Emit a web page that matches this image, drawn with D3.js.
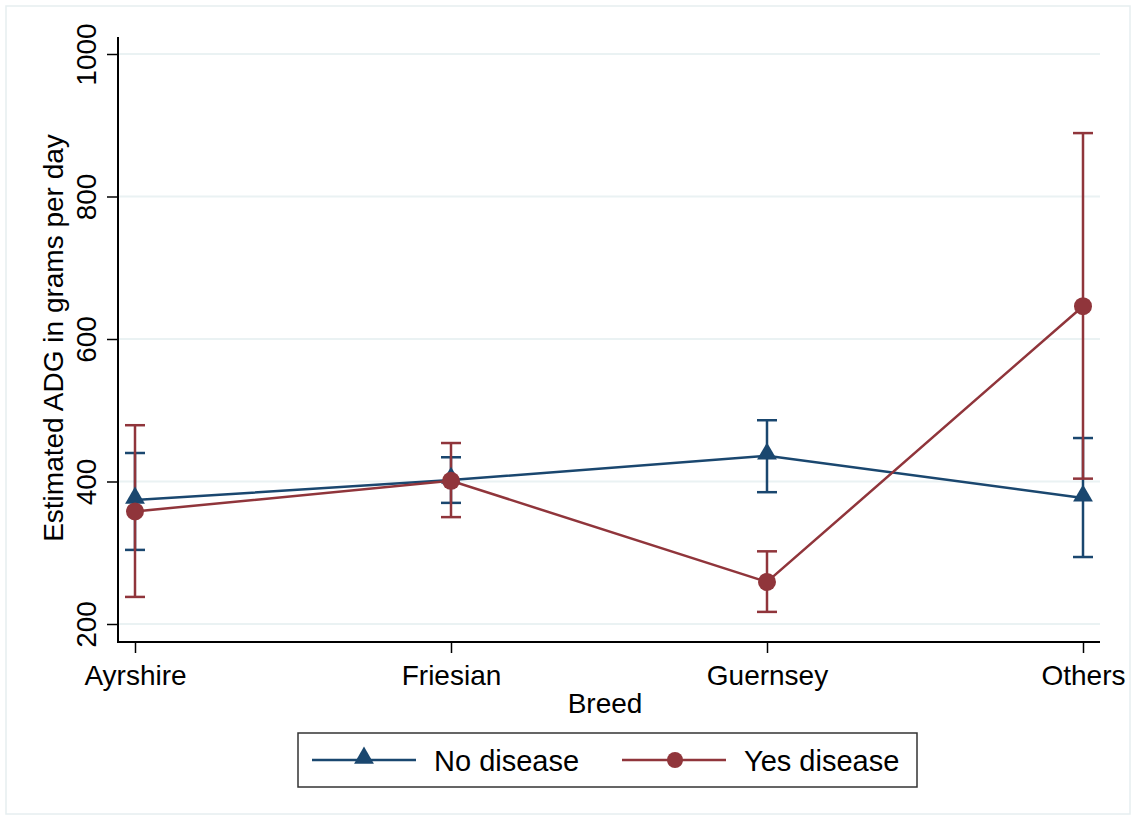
<!DOCTYPE html>
<html>
<head>
<meta charset="utf-8">
<script src="https://cdn.jsdelivr.net/npm/d3@7"></script>
<style>
  html, body { margin: 0; padding: 0; background: #fff; }
  svg { display: block; font-family: "Liberation Sans", Arial, sans-serif; }
</style>
</head>
<body>
<svg id="chart" width="1139" height="820"></svg>
<script>
// Breeds on the x axis
const breeds = ["Ayrshire", "Friesian", "Guernsey", "Others"];

// Estimated ADG (g/day) with 95% confidence limits
const noDisease      = [374, 402, 436, 377];
const noDiseaseLow   = [304, 370, 385, 294];
const noDiseaseHigh  = [440, 434, 486, 461];

const yesDisease     = [358, 401, 259, 646];
const yesDiseaseLow  = [238, 350, 217, 404];
const yesDiseaseHigh = [479, 454, 302, 889];

const yTicks = [200, 400, 600, 800, 1000];
const seriesNames = ["No disease", "Yes disease"];
const colors = ["#1a476f", "#90353b"];

const svg = d3.select("#chart");

// outer graph region outline
svg.append("rect")
  .attr("x", 6).attr("y", 6).attr("width", 1124).attr("height", 808)
  .attr("fill", "#fff").attr("stroke", "#e6eef0").attr("stroke-width", 1.5);

const plot = { left: 118, right: 1100, top: 37, bottom: 642 };

const x = d3.scalePoint().domain(breeds).range([135, 1083]);
const y = d3.scaleLinear().domain([200, 1000]).range([624, 54]);

// horizontal grid
svg.append("g").selectAll("line").data(yTicks).join("line")
  .attr("x1", plot.left).attr("x2", plot.right)
  .attr("y1", d => y(d)).attr("y2", d => y(d))
  .attr("stroke", "#eaf2f3").attr("stroke-width", 2);

// y axis
const yAxis = svg.append("g").attr("transform", `translate(${plot.left},0)`)
  .call(d3.axisLeft(y).tickValues(yTicks).tickSize(11).tickPadding(8).tickFormat(d3.format("d")));
yAxis.select(".domain").remove();
yAxis.append("line").attr("x1", 0).attr("x2", 0).attr("y1", plot.top).attr("y2", plot.bottom + 1)
  .attr("stroke", "#000").attr("stroke-width", 2);
yAxis.selectAll(".tick line").attr("stroke", "#000").attr("stroke-width", 1.5);
yAxis.selectAll(".tick text")
  .attr("font-size", 28).attr("fill", "#000")
  .attr("text-anchor", "middle")
  .attr("x", 0).attr("dy", 0)
  .attr("transform", "translate(-22,0) rotate(-90)");

// x axis
const xAxis = svg.append("g").attr("transform", `translate(0,${plot.bottom})`)
  .call(d3.axisBottom(x).tickSize(11).tickPadding(10));
xAxis.select(".domain").remove();
xAxis.append("line").attr("x1", plot.left - 1).attr("x2", plot.right).attr("y1", 0).attr("y2", 0)
  .attr("stroke", "#000").attr("stroke-width", 2);
xAxis.selectAll(".tick line").attr("stroke", "#000").attr("stroke-width", 1.5);
xAxis.selectAll(".tick text").attr("font-size", 28).attr("fill", "#000").attr("dy", "0.78em");

// axis titles
svg.append("text").attr("x", 605).attr("y", 713).attr("text-anchor", "middle")
  .attr("font-size", 28).text("Breed");
svg.append("text").attr("transform", "translate(63,338) rotate(-90)")
  .attr("text-anchor", "middle").attr("font-size", 28)
  .text("Estimated ADG in grams per day");

const series = [
  { name: seriesNames[0], vals: noDisease, lo: noDiseaseLow, hi: noDiseaseHigh, color: colors[0], marker: "tri" },
  { name: seriesNames[1], vals: yesDisease, lo: yesDiseaseLow, hi: yesDiseaseHigh, color: colors[1], marker: "circ" }
];

const triangle = d3.symbol().type(d3.symbolTriangle).size(170);
const capW = 10;

series.forEach(s => {
  const g = svg.append("g");
  // confidence intervals
  breeds.forEach((b, i) => {
    const cx = x(b);
    g.append("line").attr("x1", cx).attr("x2", cx).attr("y1", y(s.lo[i])).attr("y2", y(s.hi[i]))
      .attr("stroke", s.color).attr("stroke-width", 2.5);
    [s.lo[i], s.hi[i]].forEach(v => {
      g.append("line").attr("x1", cx - capW).attr("x2", cx + capW).attr("y1", y(v)).attr("y2", y(v))
        .attr("stroke", s.color).attr("stroke-width", 2.5);
    });
  });
});

series.forEach(s => {
  const g = svg.append("g");
  g.append("path")
    .attr("d", d3.line().x((d, i) => x(breeds[i])).y(d => y(d))(s.vals))
    .attr("fill", "none").attr("stroke", s.color).attr("stroke-width", 2.5);
  s.vals.forEach((v, i) => {
    if (s.marker === "tri") {
      g.append("path").attr("d", triangle).attr("transform", `translate(${x(breeds[i])},${y(v) - 2})`)
        .attr("fill", s.color);
    } else {
      g.append("circle").attr("cx", x(breeds[i])).attr("cy", y(v)).attr("r", 9).attr("fill", s.color);
    }
  });
});

// legend
const lg = svg.append("g");
lg.append("rect").attr("x", 298).attr("y", 733).attr("width", 619).attr("height", 54)
  .attr("fill", "#fff").attr("stroke", "#333").attr("stroke-width", 1.5);
const legendItems = [
  { name: seriesNames[0], color: colors[0], marker: "tri", x0: 312 },
  { name: seriesNames[1], color: colors[1], marker: "circ", x0: 622 }
];
legendItems.forEach(it => {
  const cy = 760;
  lg.append("line").attr("x1", it.x0).attr("x2", it.x0 + 104).attr("y1", cy).attr("y2", cy)
    .attr("stroke", it.color).attr("stroke-width", 2.5);
  if (it.marker === "tri") {
    lg.append("path").attr("d", triangle).attr("transform", `translate(${it.x0 + 52},${cy - 2})`).attr("fill", it.color);
  } else {
    lg.append("circle").attr("cx", it.x0 + 53).attr("cy", cy).attr("r", 8).attr("fill", it.color);
  }
  lg.append("text").attr("x", it.x0 + 122).attr("y", cy + 11).attr("font-size", 29).attr("fill", "#000").text(it.name);
});
</script>
</body>
</html>
